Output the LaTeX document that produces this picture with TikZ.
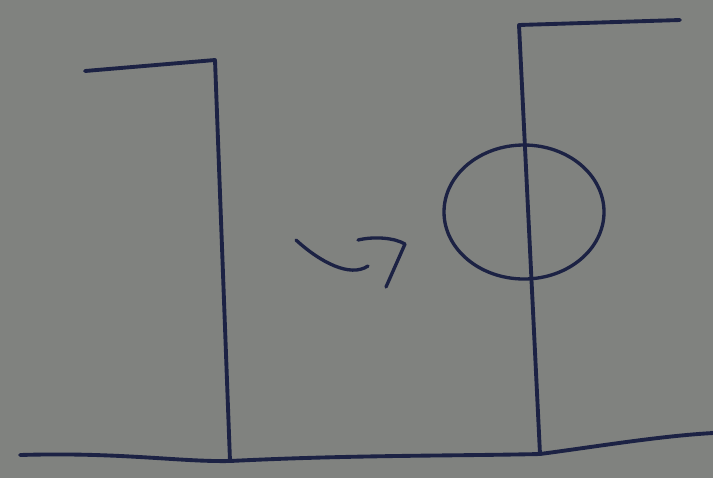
\documentclass[tikz,border=0pt]{standalone}
\usetikzlibrary{calc}
\definecolor{Papel}{RGB}{128,130,127}
\definecolor{Tinta}{RGB}{28,34,68}
\tikzset{
  trazo/.style={draw=Tinta, line width=2.2pt, line cap=round, line join=round},
  trazofino/.style={draw=Tinta, line width=1.9pt, line cap=round, line join=round},
}
\begin{document}
\begin{tikzpicture}[x=0.02cm, y=-0.02cm]
  % fondo
  \fill[Papel] (0,0) rectangle (713,478);
  \useasboundingbox (0,0) rectangle (713,478);
  % puntos de apoyo
  \coordinate (sueloIzq) at (20,455);
  \coordinate (pieA) at (230,461);
  \coordinate (pieB) at (540,454);
  \coordinate (sueloDer) at (713,433);
  \coordinate (topeA) at (215,60);
  \coordinate (brazoA) at (85,71);
  \coordinate (topeB) at (519,25);
  \coordinate (brazoB) at (680,20);
  \coordinate (centroB) at (524,212);
  % suelo
  \draw[trazo] (sueloIzq) .. controls (120,452) and (180,462) .. (pieA)
    .. controls (350,455) and (450,456) .. (pieB)
    .. controls (600,446) and (660,436) .. (sueloDer);
  % poste izquierdo
  \draw[trazo] (pieA) -- (topeA) -- (brazoA);
  % poste derecho con el aro
  \draw[trazo] (pieB) -- (topeB) -- (brazoB);
  \draw[trazofino] (centroB) ellipse [x radius=80, y radius=67];
  % flecha
  \coordinate (colaF) at (296,240);
  \coordinate (finF) at (368,266);
  \coordinate (puntaF) at (405,244);
  \draw[trazofino] (colaF) .. controls (320,262) and (350,278) .. (finF);
  \draw[trazofino] (358,240) .. controls (375,236) and (395,238) .. (puntaF) -- (386,287);
\end{tikzpicture}
\end{document}
